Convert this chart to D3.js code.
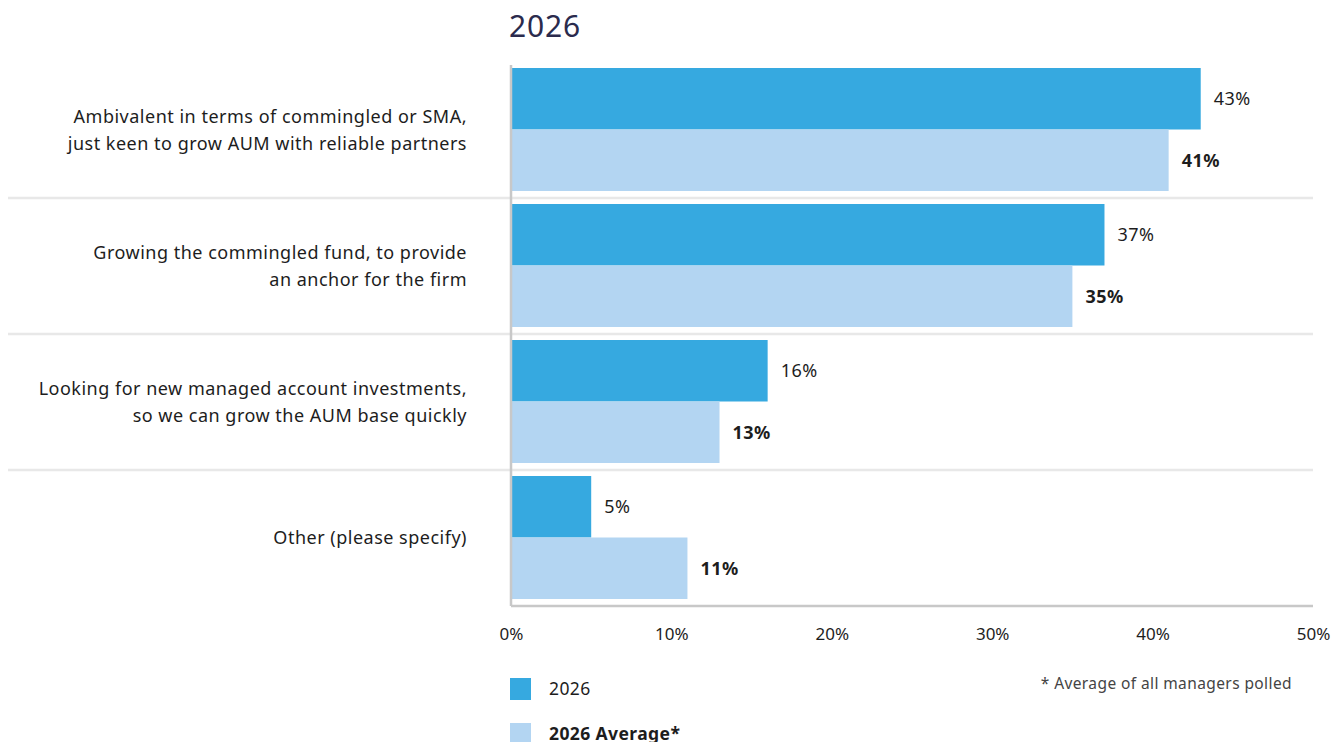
<!DOCTYPE html>
<html>
<head>
<meta charset="utf-8">
<script src="https://cdn.jsdelivr.net/npm/d3@7"></script>
<style>
  html, body { margin: 0; padding: 0; background: #ffffff; }
  svg { display: block; font-family: "Noto Sans", "Open Sans", sans-serif; }
</style>
</head>
<body>
<svg id="chart" width="1332" height="742"></svg>
<script>
// Survey categories (each label split over lines)
const categories = [
  ["Ambivalent in terms of commingled or SMA,", "just keen to grow AUM with reliable partners"],
  ["Growing the commingled fund, to provide", "an anchor for the firm"],
  ["Looking for new managed account investments,", "so we can grow the AUM base quickly"],
  ["Other (please specify)"]
];
const seriesNames = ["2026", "2026 Average*"];
const values2026 = [43, 37, 16, 5];
const valuesAverage = [41, 35, 13, 11];
const tickValues = [0, 10, 20, 30, 40, 50];
const footnote = "* Average of all managers polled";
const title = "2026";

const colors = ["#36a9e0", "#b3d5f2"];
const textColor = "#1d1d1d";

const svg = d3.select("#chart");
const plotLeft = 511, plotRight = 1313, plotTop = 62, plotBottom = 606;

const x = d3.scaleLinear().domain([0, 50]).range([plotLeft, plotRight]);
const y = d3.scaleBand().domain(d3.range(categories.length)).range([plotTop, plotBottom]).paddingInner(0).paddingOuter(0);
const sub = d3.scaleBand().domain([0, 1]).range([6, y.bandwidth() - 7]);

// Title
svg.append("text").attr("x", 509).attr("y", 37)
  .attr("font-size", 30).attr("letter-spacing", 0.8).attr("fill", "#2b2b4d").text(title);

// Separators between groups
svg.selectAll("line.sep").data(d3.range(1, categories.length)).join("line")
  .attr("class", "sep")
  .attr("x1", 8).attr("x2", plotRight)
  .attr("y1", d => y(d)).attr("y2", d => y(d))
  .attr("stroke", "#e8e8e8").attr("stroke-width", 2.5);

// Bars
const rows = categories.map((c, i) => [
  { i, s: 0, v: values2026[i] },
  { i, s: 1, v: valuesAverage[i] }
]).flat();

svg.selectAll("rect.bar").data(rows).join("rect")
  .attr("class", "bar")
  .attr("x", x(0))
  .attr("y", d => y(d.i) + sub(d.s))
  .attr("width", d => x(d.v) - x(0))
  .attr("height", sub.bandwidth())
  .attr("fill", d => colors[d.s]);

// Value labels
svg.selectAll("text.val").data(rows).join("text")
  .attr("class", "val")
  .attr("x", d => x(d.v) + 13)
  .attr("y", d => y(d.i) + sub(d.s) + sub.bandwidth() / 2)
  .attr("dy", "0.35em")
  .attr("font-size", 18)
  .attr("letter-spacing", 0.5)
  .attr("font-weight", d => d.s === 1 ? "bold" : "normal")
  .attr("fill", textColor)
  .text(d => d.v + "%");

// Axis lines
svg.append("line").attr("x1", plotLeft).attr("x2", plotLeft).attr("y1", 65).attr("y2", plotBottom)
  .attr("stroke", "#c8c8c8").attr("stroke-width", 2.5);
svg.append("line").attr("x1", plotLeft).attr("x2", plotRight).attr("y1", plotBottom).attr("y2", plotBottom)
  .attr("stroke", "#c8c8c8").attr("stroke-width", 2.5);

// X axis tick labels
const xAxis = d3.axisBottom(x).tickValues(tickValues).tickSize(0).tickPadding(0).tickFormat(d => d + "%");
const gx = svg.append("g").attr("transform", `translate(0, 634)`).call(xAxis);
gx.select(".domain").remove();
gx.selectAll("text").attr("font-size", 17).attr("fill", textColor)
  .attr("font-family", "Noto Sans, sans-serif").attr("dy", "0.35em").attr("y", 0);

// Category labels
const lineH = 27;
const lab = svg.selectAll("text.cat").data(categories).join("text")
  .attr("class", "cat")
  .attr("text-anchor", "end")
  .attr("font-size", 18)
  .attr("letter-spacing", 0.5)
  .attr("fill", textColor);
lab.each(function(lines, i) {
  const cy = y(i) + y.bandwidth() / 2;
  const y0 = cy - (lines.length - 1) * lineH / 2;
  d3.select(this).selectAll("tspan").data(lines).join("tspan")
    .attr("x", 467)
    .attr("y", (d, k) => y0 + k * lineH)
    .attr("dy", "0.35em")
    .text(d => d);
});

// Legend
const legend = svg.selectAll("g.leg").data(seriesNames).join("g")
  .attr("class", "leg")
  .attr("transform", (d, i) => `translate(510, ${678 + i * 45})`);
legend.append("rect").attr("width", 21).attr("height", 22).attr("fill", (d, i) => colors[i]);
legend.append("text").attr("x", 39).attr("y", 11).attr("dy", "0.35em")
  .attr("font-size", 17.5).attr("letter-spacing", 0.4).attr("fill", textColor)
  .attr("font-weight", (d, i) => i === 1 ? "bold" : "normal")
  .text(d => d);

// Footnote
svg.append("text").attr("x", 1292).attr("y", 684).attr("dy", "0.35em")
  .attr("text-anchor", "end").attr("font-size", 15.5).attr("letter-spacing", 0.4).attr("fill", "#444444")
  .text(footnote);
</script>
</body>
</html>
